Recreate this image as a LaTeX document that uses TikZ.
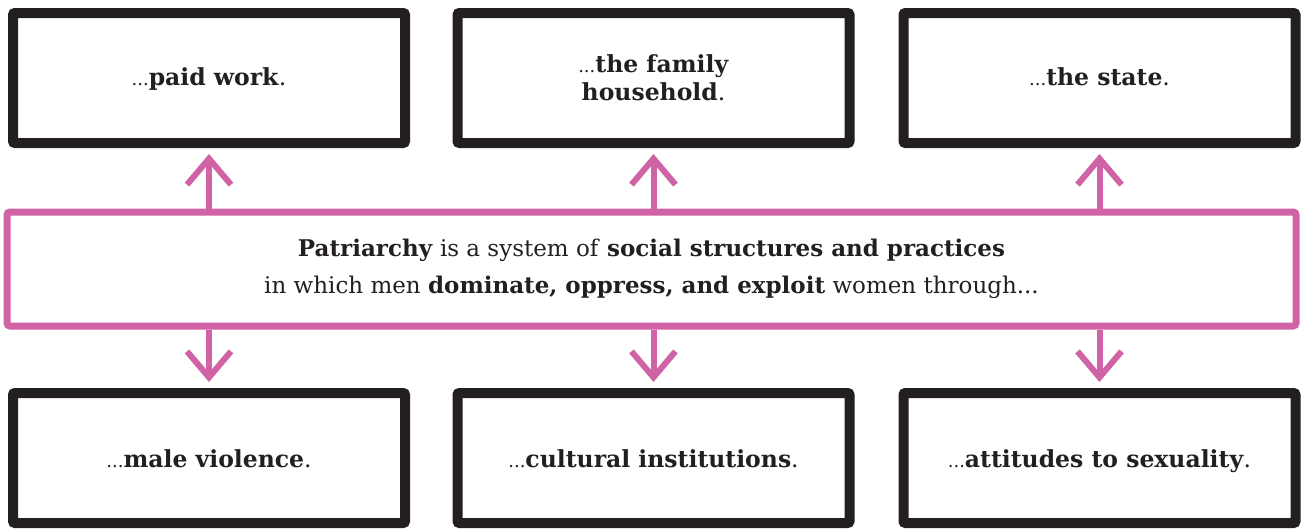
\documentclass[tikz,border=0pt]{standalone}
\usepackage{fontspec}
\setmainfont{DejaVu Serif}
\usetikzlibrary{arrows.meta}
\definecolor{ink}{HTML}{231F20}
\definecolor{pinkline}{HTML}{D062A6}
\tikzset{
  blackbox/.style={draw=ink, line width=10pt, rounded corners=2pt, minimum width=392pt, minimum height=130pt, align=center, text=ink, font=\fontsize{23.5}{28}\selectfont},
  onelinetop/.style={text height=19pt, text depth=4pt},
  onelinebot/.style={text height=21pt, text depth=2pt},
  pinkbox/.style={draw=pinkline, line width=7pt, rounded corners=3pt, minimum width=1289pt, minimum height=114pt, align=center, text=ink, font=\fontsize{23}{37}\selectfont},
  pinkarrow/.style={draw=pinkline, line width=6pt, -{Straight Barb[length=26pt, width=44pt, line width=6pt]}, shorten >=6pt}
}
\newcommand{\dts}{{\fontsize{18}{20}\selectfont\textmd{...}}}
\newcommand{\pnt}{\textmd{.}}
\begin{document}
\begin{tikzpicture}[x=1pt, y=-1pt]
\useasboundingbox (0,0) rectangle (1306,530);
\node[blackbox, onelinetop] (b1) at (209,78) {\dts\textbf{paid work}\pnt};
\node[blackbox] (b2) at (653.5,78) {\dts\textbf{the family}\\\textbf{household}\pnt};
\node[blackbox, onelinetop] (b3) at (1099.5,78) {\dts\textbf{the state}\pnt};
\node[blackbox, onelinebot] (b4) at (209,458) {\dts\textbf{male violence}\pnt};
\node[blackbox, onelinebot] (b5) at (653.5,458) {\dts\textbf{cultural institutions}\pnt};
\node[blackbox, onelinebot] (b6) at (1099.5,458) {\dts\textbf{attitudes to sexuality}\pnt};
\node[pinkbox] (P) at (651.5,269) {\textbf{Patriarchy} is a system of \textbf{social structures and practices}\\in which men \textbf{dominate, oppress, and exploit} women through...};
\foreach \b in {b1,b2,b3}{
  \draw[pinkarrow] (P.north -| \b.south) -- (\b.south);
}
\foreach \b in {b4,b5,b6}{
  \draw[pinkarrow] (P.south -| \b.north) -- (\b.north);
}
\end{tikzpicture}
\end{document}
